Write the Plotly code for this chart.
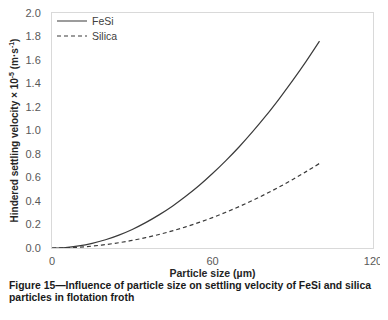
import plotly.graph_objects as go

particle_size = [0, 5, 10, 15, 20, 25, 30, 35, 40, 45, 50, 55, 60, 65, 70, 75, 80, 85, 90, 95, 100]
fesi_velocity = [0.000, 0.004, 0.018, 0.040, 0.070, 0.110, 0.158, 0.216, 0.282, 0.356, 0.440,
                 0.532, 0.634, 0.744, 0.862, 0.990, 1.126, 1.272, 1.426, 1.588, 1.760]
silica_velocity = [0.000, 0.002, 0.007, 0.016, 0.029, 0.045, 0.065, 0.088, 0.115, 0.146, 0.180,
                   0.218, 0.259, 0.304, 0.353, 0.405, 0.461, 0.520, 0.583, 0.650, 0.720]
x_ticks = [0, 60, 120]
y_ticks = [0.0, 0.2, 0.4, 0.6, 0.8, 1.0, 1.2, 1.4, 1.6, 1.8, 2.0]

# page body has an 8px margin: figure coordinates = window coordinates - 8
OFF = 8
W, H = 388 - OFF, 320 - OFF
L, T = 52 - OFF, 13 - OFF
R = W - (373 - OFF)
B = H - (248 - OFF)
pw = W - L - R
ph = H - T - B


def px_x(wx):
    return (wx - OFF - L) / pw


def px_y(wy):
    return 1 - (wy - OFF - T) / ph


fig = go.Figure()
fig.add_trace(go.Scatter(x=particle_size, y=fesi_velocity, mode="lines", name="FeSi",
                         legend="legend",
                         line=dict(color="#3a3a3a", width=1.2, shape="spline")))
fig.add_trace(go.Scatter(x=particle_size, y=silica_velocity, mode="lines", name="Silica",
                         legend="legend2",
                         line=dict(color="#3a3a3a", width=1.2, dash="4px,3px", shape="spline")))

axis_common = dict(showgrid=False, zeroline=False, showline=True, linecolor="#d9d9d9",
                   linewidth=1, mirror=True, ticks="", automargin=False,
                   ticklabeloverflow="allow",
                   tickfont=dict(family="Liberation Sans, Arial", size=11, color="#595959"))

fig.update_xaxes(range=[0, 120], tickvals=x_ticks, ticktext=[str(v) for v in x_ticks],
                 ticklabelstandoff=3,
                 title=dict(text="<b>Particle size (µm)</b>", standoff=3,
                            font=dict(family="Liberation Sans, Arial", size=10.5, color="#262626")),
                 **axis_common)
fig.update_yaxes(range=[0, 2.0], tickvals=y_ticks, ticktext=[f"{v:.1f}" for v in y_ticks],
                 ticklabelstandoff=8,
                 title=dict(text="<b>Hindered settling velocity × 10<sup>-5</sup> (m·s<sup>-1</sup>)</b>",
                            standoff=6,
                            font=dict(family="Liberation Sans, Arial", size=10, color="#262626")),
                 **axis_common)

cap_font = dict(family="Liberation Sans, Arial", size=10.4, color="#1a1a1a")
fig.add_annotation(xref="paper", yref="paper", x=px_x(7), y=px_y(285),
                   xanchor="left", yanchor="middle", showarrow=False,
                   text="<b>Figure 15—Influence of particle size on settling velocity of FeSi and silica</b>",
                   font=cap_font)
fig.add_annotation(xref="paper", yref="paper", x=px_x(7), y=px_y(297),
                   xanchor="left", yanchor="middle", showarrow=False,
                   text="<b>particles in flotation froth</b>",
                   font=cap_font)

leg_font = dict(family="Liberation Sans, Arial", size=10.5, color="#404040")
fig.update_layout(
    width=W, height=H, margin=dict(l=L, r=R, t=T, b=B, autoexpand=False),
    paper_bgcolor="white", plot_bgcolor="white",
    showlegend=True,
    legend=dict(x=px_x(52), y=px_y(21), xanchor="left", yanchor="middle",
                bgcolor="rgba(0,0,0,0)", font=leg_font, itemwidth=30),
    legend2=dict(x=px_x(52), y=px_y(36), xanchor="left", yanchor="middle",
                 bgcolor="rgba(0,0,0,0)", font=leg_font, itemwidth=30),
)

fig.write_html("out.html")
